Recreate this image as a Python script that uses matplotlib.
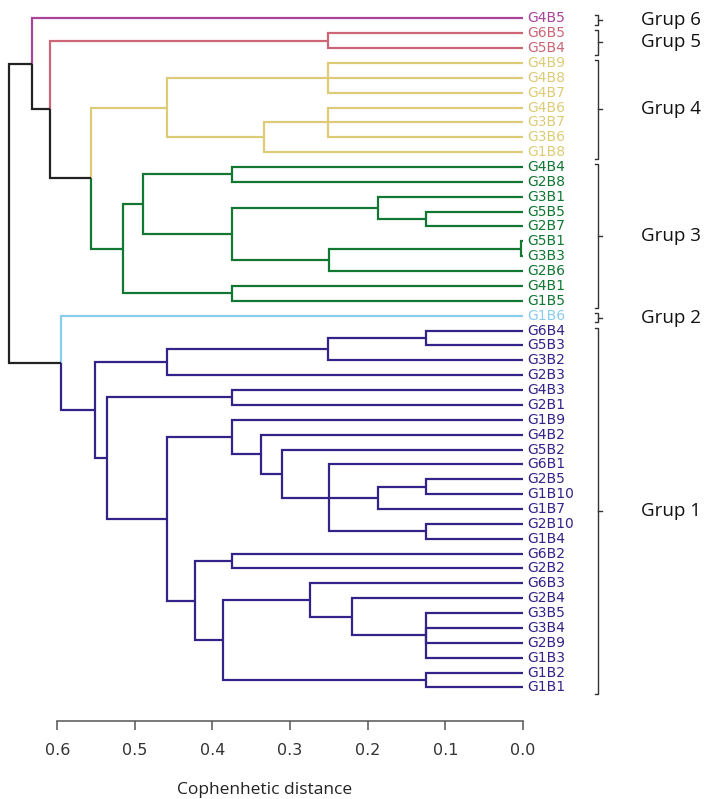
import matplotlib
matplotlib.use("Agg")
import matplotlib.pyplot as plt

# leaves in drawing order (top to bottom)
leaves = [
    "G4B5",
    "G6B5", "G5B4",
    "G4B9", "G4B8", "G4B7", "G4B6", "G3B7", "G3B6", "G1B8",
    "G4B4", "G2B8", "G3B1", "G5B5", "G2B7", "G5B1", "G3B3", "G2B6", "G4B1", "G1B5",
    "G1B6",
    "G6B4", "G5B3", "G3B2", "G2B3", "G4B3", "G2B1", "G1B9", "G4B2", "G5B2", "G6B1",
    "G2B5", "G1B10", "G1B7", "G2B10", "G1B4", "G6B2", "G2B2", "G6B3", "G2B4", "G3B5",
    "G3B4", "G2B9", "G1B3", "G1B2", "G1B1",
]

group_names = ["Grup 6", "Grup 5", "Grup 4", "Grup 3", "Grup 2", "Grup 1"]
group_sizes = [1, 2, 7, 10, 1, 25]
group_colors = ["#AA4499", "#CC6677", "#DDCC77", "#117733", "#88CCEE", "#332288"]

# merges: (node, children, cophenetic height)
merges = [
    ("g5", ["G6B5", "G5B4"], 0.251),
    ("g4a", ["G4B9", "G4B8", "G4B7"], 0.251),
    ("g4b", ["G4B6", "G3B7", "G3B6"], 0.251),
    ("g4c", ["g4b", "G1B8"], 0.333),
    ("g4", ["g4a", "g4c"], 0.458),
    ("g3a", ["G4B4", "G2B8"], 0.375),
    ("g3b", ["G5B5", "G2B7"], 0.125),
    ("g3c", ["G3B1", "g3b"], 0.187),
    ("g3d", ["G5B1", "G3B3"], 0.002),
    ("g3e", ["g3d", "G2B6"], 0.250),
    ("g3f", ["g3c", "g3e"], 0.375),
    ("g3g", ["g3a", "g3f"], 0.490),
    ("g3h", ["G4B1", "G1B5"], 0.375),
    ("g3", ["g3g", "g3h"], 0.515),
    ("g43", ["g4", "g3"], 0.557),
    ("g543", ["g5", "g43"], 0.610),
    ("top", ["G4B5", "g543"], 0.632),
    ("a1", ["G6B4", "G5B3"], 0.125),
    ("a2", ["a1", "G3B2"], 0.251),
    ("a3", ["a2", "G2B3"], 0.458),
    ("b1", ["G4B3", "G2B1"], 0.375),
    ("c1", ["G2B5", "G1B10"], 0.125),
    ("c2", ["c1", "G1B7"], 0.187),
    ("c3", ["G2B10", "G1B4"], 0.125),
    ("c4", ["G6B1", "c2", "c3"], 0.250),
    ("c5", ["G5B2", "c4"], 0.311),
    ("c6", ["G4B2", "c5"], 0.338),
    ("c7", ["G1B9", "c6"], 0.375),
    ("d1", ["G6B2", "G2B2"], 0.375),
    ("d2", ["G3B5", "G3B4", "G2B9", "G1B3"], 0.125),
    ("d3", ["G2B4", "d2"], 0.220),
    ("d4", ["G6B3", "d3"], 0.275),
    ("d5", ["G1B2", "G1B1"], 0.125),
    ("d6", ["d4", "d5"], 0.386),
    ("d7", ["d1", "d6"], 0.422),
    ("e1", ["c7", "d7"], 0.458),
    ("e2", ["b1", "e1"], 0.536),
    ("g1", ["a3", "e2"], 0.552),
    ("g12", ["G1B6", "g1"], 0.595),
    ("root", ["top", "g12"], 0.662),
]

ticks = [0.6, 0.5, 0.4, 0.3, 0.2, 0.1, 0.0]
BLACK = "#222222"

# ── layout in pixels ─────────────────────────────────────────────
W, H = 716, 799
PX_PER_UNIT = 776.0          # px per 1.0 cophenetic distance
X_ZERO = 522.9               # px of distance 0
Y_FIRST, Y_STEP = 18.3, 14.87
AX_BOTTOM = 720.5

fig = plt.figure(figsize=(W / 100, H / 100), dpi=100)
ax = fig.add_axes([0, 1 - AX_BOTTOM / H, X_ZERO / W, AX_BOTTOM / H])
ax.set_xlim(X_ZERO / PX_PER_UNIT, 0)
ax.set_ylim((AX_BOTTOM - Y_FIRST) / Y_STEP, -Y_FIRST / Y_STEP)


def px_to_d(px):
    return (X_ZERO - px) / PX_PER_UNIT


# leaf -> group colour
leaf_color = {}
i = 0
for size, col in zip(group_sizes, group_colors):
    for name in leaves[i:i + size]:
        leaf_color[name] = col
    i += size

pos = {name: (0.0, k) for k, name in enumerate(leaves)}
members = {name: {name} for name in leaves}
for node, kids, h in merges:
    ys = [pos[k][1] for k in kids]
    pos[node] = (h, (ys[0] + ys[-1]) / 2)
    members[node] = set().union(*[members[k] for k in kids])


def node_color(node):
    cols = {leaf_color[m] for m in members[node]}
    return cols.pop() if len(cols) == 1 else BLACK


for node, kids, h in merges:
    hp, yp = pos[node]
    for k in kids:
        hc, yc = pos[k]
        ax.plot([hp, hp, hc], [yp, yc, yc], color=node_color(k), lw=1.6,
                solid_capstyle="butt", solid_joinstyle="miter", clip_on=False)

for k, name in enumerate(leaves):
    ax.text(px_to_d(X_ZERO + 4), k, name, color=leaf_color[name], fontsize=10,
            ha="left", va="center", family="DejaVu Sans")

# group brackets and labels
bx = px_to_d(598)
arm = 3.5 / PX_PER_UNIT
i = 0
for gname, size in zip(group_names, group_sizes):
    y0 = i - 0.2
    y1 = i + size - 1 + 0.45
    ax.plot([bx + arm, bx, bx, bx + arm], [y0, y0, y1, y1], color="#333333",
            lw=1.0, clip_on=False)
    ym = (y0 + y1) / 2
    ax.plot([bx, bx - arm], [ym, ym], color="#333333", lw=1.0, clip_on=False)
    ax.text(px_to_d(641), ym, gname, fontsize=13.5, family="Open Sans",
            ha="left", va="center", color="#111111")
    i += size

# R-style axis
for side in ["top", "left", "right"]:
    ax.spines[side].set_visible(False)
ax.spines["bottom"].set_bounds(0, 0.6)
ax.spines["bottom"].set_color("#555555")
ax.spines["bottom"].set_linewidth(1.1)
ax.set_yticks([])
ax.set_xticks(ticks)
ax.set_xticklabels([f"{t:.1f}" for t in ticks])
ax.tick_params(axis="x", direction="out", length=6.5, width=1.1, color="#555555",
               labelsize=11.5, labelcolor="#333333", pad=10)
ax.patch.set_visible(False)

fig.text(265 / W, 1 - 790 / H, "Cophenhetic distance", fontsize=12.5,
         family="Open Sans", ha="center", va="center", color="#222222")

fig.savefig("out.png", dpi=100)
